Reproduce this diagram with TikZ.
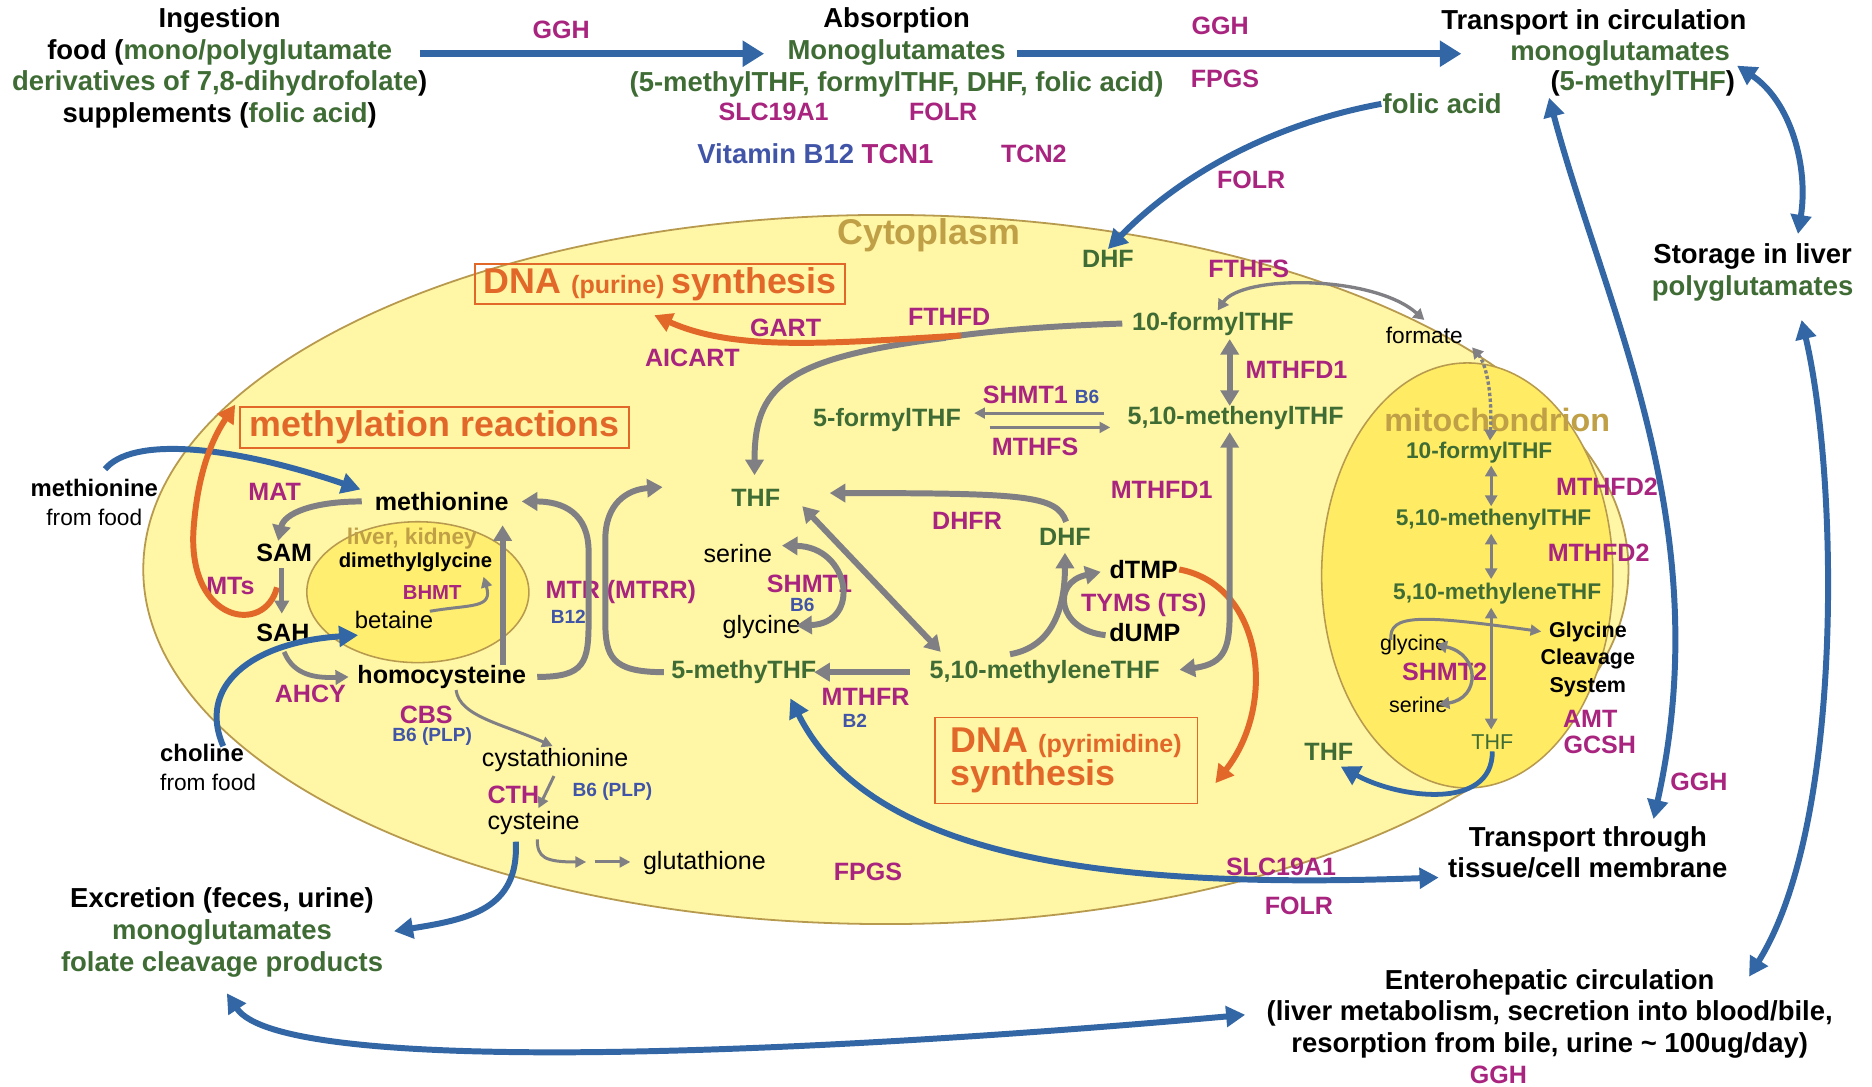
\documentclass[tikz,border=0pt]{standalone}
\usepackage{fontspec}
\setmainfont{Liberation Sans}
\usetikzlibrary{arrows.meta}
\definecolor{grn}{RGB}{62,108,52}
\definecolor{mag}{RGB}{168,36,126}
\definecolor{blt}{RGB}{64,84,168}
\definecolor{bla}{RGB}{50,102,164}
\definecolor{gra}{RGB}{128,128,132}
\definecolor{org}{RGB}{226,104,42}
\definecolor{tanc}{RGB}{192,160,70}
\definecolor{cytf}{RGB}{255,246,166}
\definecolor{cytd}{RGB}{184,154,78}
\definecolor{mitf}{RGB}{255,236,100}
\definecolor{livf}{RGB}{255,238,112}
\newcommand{\fsz}[2]{\fontsize{#1}{#2}\selectfont}
\begin{document}
\begin{tikzpicture}[x=1pt,y=-1pt,
  every node/.style={inner sep=1pt, font=\bfseries\fsz{21}{25}},
  otx/.style={font=\bfseries\fsz{23}{26.5}, align=center},
  enz/.style={text=mag, font=\bfseries\fsz{21}{25}},
  grl/.style={text=grn, font=\bfseries\fsz{21}{25}},
  blk/.style={font=\bfseries\fsz{21}{25}},
  rg/.style={font=\fsz{21}{25}},
  vit/.style={text=blt, font=\bfseries\fsz{16}{19}},
  mgr/.style={text=grn, font=\bfseries\fsz{19}{22}},
  obox/.style={draw=org, line width=1.6pt, text=org, inner xsep=7pt, inner ysep=3pt},
  barrow/.style={draw=bla, line width=5.5pt, -{Triangle[length=18pt,width=21pt]}},
  bcurve/.style={draw=bla, line width=5pt, -{Triangle[length=16pt,width=17pt]}},
  bboth/.style={draw=bla, line width=5pt, {Triangle[length=16pt,width=17pt]}-{Triangle[length=16pt,width=17pt]}},
  oarrow/.style={draw=org, line width=5pt, -{Triangle[length=15pt,width=16pt]}},
  garrow/.style={draw=gra, line width=5pt, -{Triangle[length=13pt,width=15pt]}},
  gboth/.style={draw=gra, line width=5pt, {Triangle[length=13pt,width=15pt]}-{Triangle[length=13pt,width=15pt]}},
  gmed/.style={draw=gra, line width=4pt, -{Triangle[length=11pt,width=12pt]}},
  gthin/.style={draw=gra, line width=2.5pt, -{Triangle[length=9pt,width=9pt]}},
  gthinb/.style={draw=gra, line width=2.8pt, {Triangle[length=9pt,width=10pt]}-{Triangle[length=9pt,width=10pt]}},
  gline/.style={draw=gra, line width=5pt},
]
\useasboundingbox (0,0) rectangle (1568,910);
\fill[white] (0,0) rectangle (1568,910);

% ---------- compartments
\draw[cytd, line width=1.5pt, fill=cytf] (742,477) ellipse [x radius=622, y radius=297];
\draw[cytd, line width=1.3pt, fill=livf] (350,496) ellipse [x radius=93, y radius=59];
\draw[cytd, line width=1.3pt, fill=mitf] (1229,482) ellipse [x radius=122, y radius=178];

% ---------- outer texts
\node[otx] (ing) at (184,57) {Ingestion\\food (\textcolor{grn}{mono/polyglutamate}\\\textcolor{grn}{derivatives of 7,8-dihydrofolate})\\supplements (\textcolor{grn}{folic acid})};
\node[otx] (abs) at (751,44) {Absorption\\\textcolor{grn}{Monoglutamates}\\\textcolor{grn}{(5-methylTHF, formylTHF, DHF, folic acid)}};
\node[enz] (ggha) at (470,25) {GGH};
\node[enz] (gghb) at (1022,22) {GGH};
\node[enz] (fpgsa) at (1026,66) {FPGS};
\node[enz] (slca) at (648,94) {SLC19A1};
\node[enz] (folra) at (790,94) {FOLR};
\node[otx, text=blt] (vitb) at (683,129) {Vitamin B12 \textcolor{mag}{TCN1}};
\node[enz] (tcn) at (866,129) {TCN2};
\node[otx] (trca) at (1335,19) {Transport in circulation};
\node[otx, text=grn] (trcb) at (1357,45) {monoglutamates};
\node[otx] (trcc) at (1376,70) {(\textcolor{grn}{5-methylTHF})};
\node[otx, text=grn] (folic) at (1208,87) {folic acid};
\node[enz] (folrb) at (1048,151) {FOLR};
\node[otx] (stor) at (1468,228) {Storage in liver\\\textcolor{grn}{polyglutamates}};
\node[font=\bfseries\fsz{20}{24}, align=center] (metf) at (79,421) {methionine\\\mdseries\fsz{19}{22}from food};
\node[font=\bfseries\fsz{20}{24}, align=left, anchor=west] (chof) at (133,643) {choline\\\mdseries\fsz{19}{22}from food};
\node[otx] (excr) at (186,781) {Excretion (feces, urine)\\\textcolor{grn}{monoglutamates}\\\textcolor{grn}{folate cleavage products}};
\node[otx] (entero) at (1298,849) {Enterohepatic circulation\\(liver metabolism, secretion into blood/bile,\\resorption from bile, urine \textasciitilde{} 100ug/day)};
\node[enz] (gghc) at (1255,900) {GGH};
\node[otx] (tthr) at (1330,714) {Transport through\\tissue/cell membrane};
\node[enz] (gghd) at (1423,655) {GGH};
\node[enz] (slcb) at (1073,726) {SLC19A1};
\node[enz] (folrc) at (1088,759) {FOLR};
\node[enz] (fpgsb) at (727,730) {FPGS};

% ---------- cytoplasm texts
\node[text=tanc, font=\bfseries\fsz{30}{34}] (cyto) at (778,197) {Cytoplasm};
\node[grl] (dhfa) at (928,217) {DHF};
\node[enz] (fthfs) at (1046,225) {FTHFS};
\node[enz] (fthfd) at (795,265) {FTHFD};
\node[enz] (gart) at (658,275) {GART};
\node[enz] (aicart) at (580,300) {AICART};
\node[obox] (dnapur) at (553,238) {\fsz{30}{34}DNA \fsz{21}{25}(purine) \fsz{30}{34}synthesis};
\node[obox, inner xsep=8pt] (methr) at (364,358) {\fsz{30}{34}methylation reactions};
\node[obox, align=left, minimum width=220pt, minimum height=72pt, inner xsep=6pt] (dnapyr) at (893,637) {\fsz{30}{33}DNA \fsz{21}{25}(pyrimidine)\\\fsz{30}{33}synthesis};
\node[grl] (fthf) at (1016,271) {10-formylTHF};
\node[enz] (mthfda) at (1086,310) {MTHFD1};
\node[grl] (ffthf) at (743,352) {5-formylTHF};
\node[enz] (shmta) at (872,331) {SHMT1 \textcolor{blt}{\fsz{16}{19}B6}};
\node[enz] (mthfs) at (867,374) {MTHFS};
\node[grl] (menyl) at (1035,350) {5,10-methenylTHF};
\node[enz] (mthfdb) at (973,410) {MTHFD1};
\node[grl] (thf) at (633,417) {THF};
\node[enz] (dhfr) at (810,436) {DHFR};
\node[grl] (dhfb) at (892,450) {DHF};
\node[blk] (dtmp) at (958,477) {dTMP};
\node[enz] (tyms) at (958,507) {TYMS (TS)};
\node[blk] (dump) at (959,530) {dUMP};
\node[rg] (ser) at (618,464) {serine};
\node[enz] (shmtb) at (678,489) {SHMT1};
\node[vit] (bsixa) at (672,507) {B6};
\node[rg] (gly) at (638,525) {glycine};
\node[grl] (mthy) at (623,563) {5-methyTHF};
\node[grl] (mlene) at (875,563) {5,10-methyleneTHF};
\node[enz] (mthfr) at (725,584) {MTHFR};
\node[vit] (btwo) at (716,604) {B2};
\node[blk] (meth) at (370,420) {methionine};
\node[enz] (mat) at (230,412) {MAT};
\node[blk] (sam) at (238,463) {SAM};
\node[blk] (sah) at (237,530) {SAH};
\node[enz] (mts) at (193,491) {MTs};
\node[blk] (homo) at (370,567) {homocysteine};
\node[enz] (ahcy) at (260,581) {AHCY};
\node[text=tanc, font=\bfseries\fsz{19}{22}] (livk) at (345,451) {liver, kidney};
\node[font=\bfseries\fsz{17}{20}] (dmg) at (348,471) {dimethylglycine};
\node[text=mag, font=\bfseries\fsz{17}{20}] (bhmt) at (362,496) {BHMT};
\node[font=\fsz{20}{24}] (bet) at (330,519) {betaine};
\node[enz] (mtr) at (520,496) {MTR (MTRR)};
\node[vit] (btw) at (476,517) {B12};
\node[enz] (cbs) at (357,599) {CBS};
\node[vit] (bsixb) at (362,617) {B6 (PLP)};
\node[rg] (cysth) at (465,637) {cystathionine};
\node[enz] (cth) at (430,666) {CTH};
\node[vit] (bsixc) at (513,663) {B6 (PLP)};
\node[rg] (cyst) at (447,689) {cysteine};
\node[rg] (gsh) at (590,723) {glutathione};
\node[font=\fsz{19}{22}] (form) at (1193,281) {formate};
\node[grl] (cthf) at (1113,630) {THF};

% ---------- mitochondrion texts
\node[text=tanc, font=\bfseries\fsz{27}{30}] (mitol) at (1254,352) {mitochondrion};
\node[mgr] (mf) at (1239,379) {10-formylTHF};
\node[enz] (mda) at (1346,408) {MTHFD2};
\node[mgr] (mm) at (1251,435) {5,10-methenylTHF};
\node[enz] (mdb) at (1339,463) {MTHFD2};
\node[mgr] (ml) at (1254,497) {5,10-methyleneTHF};
\node[font=\fsz{18}{21}] (mgly) at (1184,540) {glycine};
\node[enz] (shmtc) at (1210,563) {SHMT2};
\node[font=\fsz{18}{21}] (mser) at (1188,590) {serine};
\node[mgr, font=\mdseries\fsz{18}{21}] (mthf) at (1250,622) {THF};
\node[font=\bfseries\fsz{18}{23}, align=center] (gcs) at (1330,552) {Glycine\\Cleavage\\System};
\node[enz] (amt) at (1332,602) {AMT};
\node[enz] (gcsh) at (1340,624) {GCSH};

% ---------- blue arrows
\coordinate (i1) at (352,45); \coordinate (a1) at (640,45);
\coordinate (i2) at (852,45); \coordinate (a2) at (1224,45);
\draw[barrow] (i1) -- (a1);
\draw[barrow] (i2) -- (a2);
\draw[bcurve] (folic.west) .. controls (1060,105) and (985,150) .. (dhfa.north);
\draw[bboth] (1455,55) .. controls (1500,85) and (1515,140) .. (1506,196);
\draw[bboth] (trcc.south west) .. controls (1345,260) and (1440,440) .. (1385,686);
\draw[bboth] (1509,268) .. controls (1540,400) and (1545,690) .. (1465,818);
\draw[bcurve] (88,393) .. controls (110,366) and (190,372) .. (302,410);
\draw[bcurve] (187,625) .. controls (165,575) and (210,538) .. (300,532);
\draw[bcurve] (432,705) .. controls (435,762) and (392,770) .. (330,780);
\draw[bboth] (190,832) .. controls (235,900) and (650,885) .. (1043,850);
\draw[bboth] (662,585) .. controls (730,720) and (930,745) .. (1205,735);
\draw[bcurve, line width=4pt] (mthf.south) .. controls (1250,680) and (1170,668) .. (1123,642);

% ---------- orange arrows
\draw[oarrow] (232,492) .. controls (222,532) and (158,522) .. (162,445) .. controls (165,400) and (176,370) .. (197,339);
\draw[gline] (940,271) .. controls (880,273) and (830,277) .. (790,283);
\draw[garrow] (792,283) .. controls (655,300) and (632,325) .. (632,398);
\draw[oarrow] (805,281) .. controls (690,288) and (615,294) .. (548,264);
\draw[oarrow] (dtmp.east) .. controls (1058,490) and (1070,590) .. (1018,656);

% ---------- gray arrows
\draw[garrow] (303,420) .. controls (262,420) and (238,430) .. (233,453);
\draw[gmed] (236,476) -- (236,514);
\draw[gmed] (238,546) .. controls (246,566) and (265,568) .. (292,567);
\draw[garrow] (421,557) -- (421,440);
\draw[gthin] (360,512) .. controls (395,506) and (413,510) .. (405,483);
\draw[garrow] (450,567) .. controls (490,567) and (493,555) .. (493,520) -- (493,462) .. controls (493,430) and (472,420) .. (437,420);
\draw[garrow] (556,563) .. controls (512,563) and (507,550) .. (507,520) -- (507,452) .. controls (507,422) and (525,410) .. (555,408);
\draw[garrow] (893,437) .. controls (885,415) and (860,413) .. (695,413);
\draw[gboth] (672,424) -- (788,546);
\draw[gboth] (655,457) .. controls (712,458) and (722,522) .. (667,524);
\draw[garrow] (762,563) -- (682,563);
\draw[garrow] (846,548) .. controls (880,542) and (892,512) .. (892,463);
\draw[garrow] (926,532) .. controls (886,528) and (880,488) .. (922,479);
\draw[gboth] (988,561) .. controls (1028,556) and (1030,540) .. (1030,510) -- (1030,362);
\draw[gboth] (1030,284) -- (1030,340);
\draw[gthin] (925,346) -- (816,346);
\draw[gthin] (829,358) -- (930,358);
\draw[gthinb] (1020,260) .. controls (1040,230) and (1150,230) .. (1193,268);
\draw[draw=gra, line width=2.8pt, dotted, {Triangle[length=9pt,width=10pt]}-{Triangle[length=9pt,width=10pt]}] (1248,369) .. controls (1250,330) and (1245,305) .. (1233,291);
\draw[gthinb] (1249,390) -- (1249,424);
\draw[gthinb] (1249,447) -- (1249,485);
\draw[gthinb] (1249,509) -- (1249,611);
\draw[gthinb] (1203,540) .. controls (1240,548) and (1240,585) .. (1205,590);
\draw[gthin] (1165,536) .. controls (1163,514) and (1190,515) .. (1291,529);
\draw[gthin] (382,578) .. controls (385,600) and (420,606) .. (463,625);
\draw[gthin] (464,650) -- (451,677);
\draw[gthin] (450,703) .. controls (450,718) and (456,722) .. (491,722);
\draw[gthin] (498,722) -- (528,722);
\end{tikzpicture}
\end{document}
